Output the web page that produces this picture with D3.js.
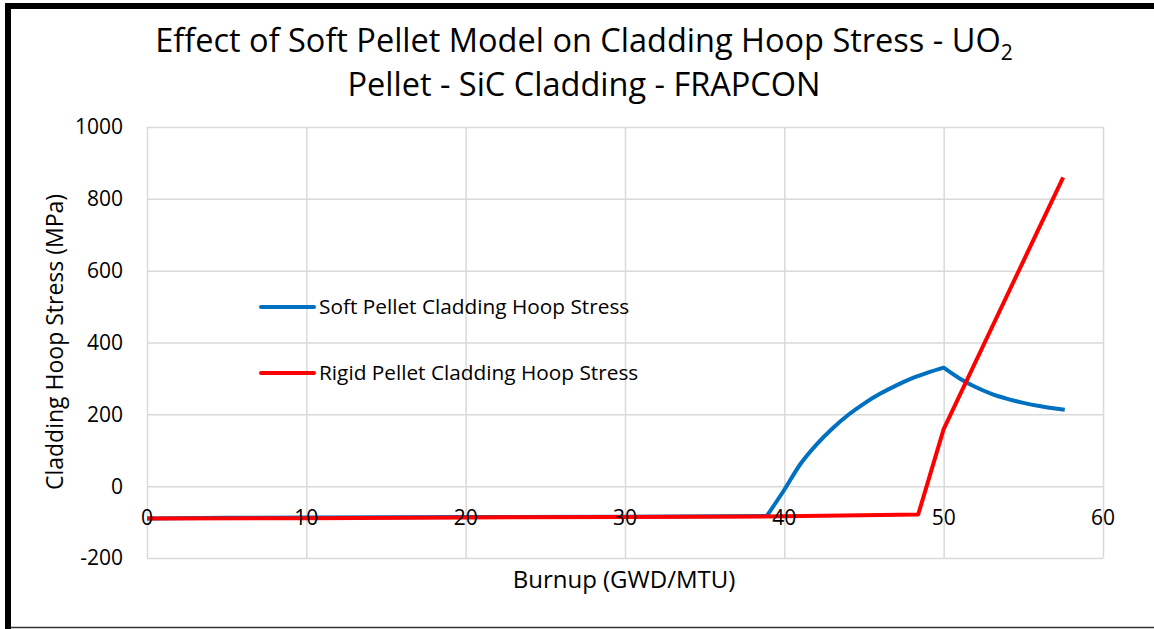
<!doctype html>
<html>
<head>
<meta charset="utf-8">
<style>
  body { margin: 0; background: #fff; }
  text { font-family: "Open Sans", sans-serif; fill: #000; }
</style>
</head>
<body>
<div id="container"></div>
<script src="https://cdn.jsdelivr.net/npm/d3@7"></script>
<script type="text/javascript">

    // data
    var softX = [0, 5, 10, 20, 30, 38.9, 40, 41, 42, 43, 44, 45, 46, 47, 48, 49, 50, 51, 52, 53, 54, 55, 56, 57, 57.6];
    var softY = [-90, -88, -87, -86, -85, -83, -10, 61, 115, 160, 198, 230, 257, 280, 300, 316, 330, 300, 276, 257, 243, 232, 223, 216, 213];
    var rigidX = [0, 10, 20, 30, 40, 48.4, 50, 57.5];
    var rigidY = [-90, -89, -87, -86, -84, -79, 159, 860];
    var xTicks = [0, 10, 20, 30, 40, 50, 60];
    var yTicks = [-200, 0, 200, 400, 600, 800, 1000];
    var seriesNames = ["Soft Pellet Cladding Hoop Stress", "Rigid Pellet Cladding Hoop Stress"];
    var seriesColors = ["#0070C0", "#FF0000"];

    var width = 1154, height = 629;
    var margin = {top: 127, right: 51, bottom: 71, left: 147};

    var svg = d3.select("#container").append("svg")
        .attr("width", width)
        .attr("height", height);

    // frame
    svg.append("line").attr("x1", 5).attr("x2", width).attr("y1", 6).attr("y2", 6)
        .attr("stroke", "#000").attr("stroke-width", 6);
    svg.append("line").attr("x1", 8).attr("x2", 8).attr("y1", 3).attr("y2", height)
        .attr("stroke", "#000").attr("stroke-width", 6);
    svg.append("line").attr("x1", 11).attr("x2", width).attr("y1", 627.5).attr("y2", 627.5)
        .attr("stroke", "#333").attr("stroke-width", 1.5);

    var x_scale = d3.scaleLinear().domain([0, 60]).range([margin.left, width - margin.right]);
    var y_scale = d3.scaleLinear().domain([-200, 1000]).range([height - margin.bottom, margin.top]);

    // grid
    svg.append("g")
        .attr("transform", "translate(0," + (height - margin.bottom) + ")")
        .call(d3.axisBottom(x_scale).tickValues(xTicks).tickSize(-(height - margin.top - margin.bottom)).tickFormat(""))
        .call(function (g) { g.select(".domain").remove(); })
        .selectAll("line").attr("stroke", "#d9d9d9").attr("stroke-width", 1.5);

    svg.append("g")
        .attr("transform", "translate(" + margin.left + ",0)")
        .call(d3.axisLeft(y_scale).tickValues(yTicks).tickSize(-(width - margin.left - margin.right)).tickFormat(""))
        .call(function (g) { g.select(".domain").remove(); })
        .selectAll("line").attr("stroke", "#d9d9d9").attr("stroke-width", 1.5);

    // y tick labels
    svg.append("g").selectAll("text")
        .data(yTicks).enter().append("text")
        .attr("x", 123)
        .attr("y", function (d) { return y_scale(d); })
        .attr("dy", "0.35em")
        .attr("text-anchor", "end")
        .style("font-size", "21px")
        .text(function (d) { return d; });

    // series
    var smooth_line = d3.line()
        .curve(d3.curveMonotoneX)
        .x(function (d) { return x_scale(d[0]); })
        .y(function (d) { return y_scale(d[1]); });
    var straight_line = d3.line()
        .x(function (d) { return x_scale(d[0]); })
        .y(function (d) { return y_scale(d[1]); });

    // soft pellet curve: straight plateau, then smooth pieces with sharp corners at 38.9 and 50
    var soft = d3.zip(softX, softY);
    var softPath = straight_line(soft.slice(0, 6)) +
        smooth_line(soft.slice(5, 17)).replace(/^M/, "L") +
        smooth_line(soft.slice(16)).replace(/^M/, "L");
    var rigidPath = straight_line(d3.zip(rigidX, rigidY));

    svg.append("g").selectAll("path")
        .data([softPath, rigidPath]).enter().append("path")
        .attr("d", function (d) { return d; })
        .attr("fill", "none")
        .attr("stroke-width", 4)
        .attr("stroke-linejoin", "round")
        .attr("stroke", function (_, i) { return seriesColors[i]; });

    // x tick labels (drawn over the lines, as in the reference)
    svg.append("g").selectAll("text")
        .data(xTicks).enter().append("text")
        .attr("x", function (d) { return x_scale(d); })
        .attr("y", 518)
        .attr("dy", "0.35em")
        .attr("text-anchor", "middle")
        .style("font-size", "21px")
        .text(function (d) { return d; });

    // legend
    var legend = svg.append("g").selectAll("g")
        .data(seriesNames).enter().append("g")
        .attr("transform", function (_, i) { return "translate(261," + (307 + i * 66) + ")"; });
    legend.append("line")
        .attr("x1", 0).attr("x2", 53)
        .attr("stroke-width", 4)
        .attr("stroke-linecap", "round")
        .attr("stroke", function (_, i) { return seriesColors[i]; });
    legend.append("text")
        .attr("x", 58)
        .attr("dy", "0.35em")
        .style("font-size", "20.8px")
        .text(function (d) { return d; });

    // titles
    var title1 = svg.append("text")
        .attr("x", 584).attr("y", 52)
        .attr("text-anchor", "middle")
        .style("font-size", "32.5px");
    title1.append("tspan").text("Effect of Soft Pellet Model on Cladding Hoop Stress - UO");
    title1.append("tspan").attr("dy", 8).style("font-size", "21px").text("2");

    svg.append("text")
        .attr("x", 584).attr("y", 96)
        .attr("text-anchor", "middle")
        .style("font-size", "32.5px")
        .text("Pellet - SiC Cladding - FRAPCON");

    svg.append("text")
        .attr("x", 624).attr("y", 580)
        .attr("dy", "0.35em")
        .attr("text-anchor", "middle")
        .style("font-size", "24px")
        .text("Burnup (GWD/MTU)");

    svg.append("text")
        .attr("transform", "translate(55,342) rotate(-90)")
        .attr("dy", "0.35em")
        .attr("text-anchor", "middle")
        .style("font-size", "23px")
        .text("Cladding Hoop Stress (MPa)");

</script>
</body>
</html>
